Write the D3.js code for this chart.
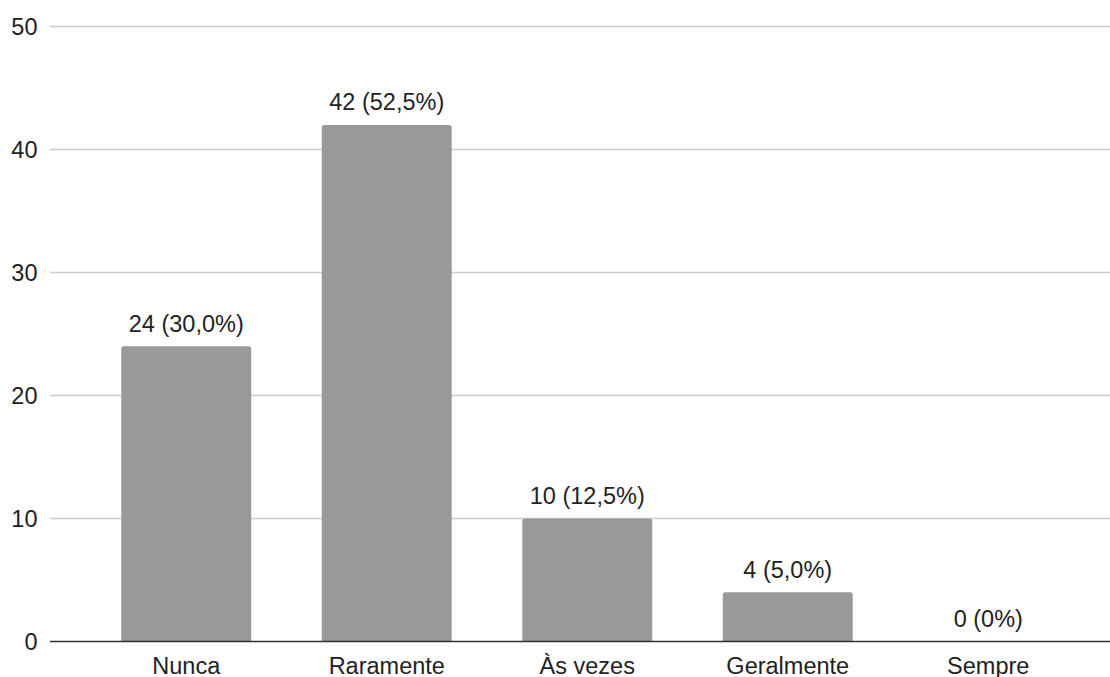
<!DOCTYPE html>
<html>
<head>
<meta charset="utf-8">
<script src="https://cdn.jsdelivr.net/npm/d3@7"></script>
<style>
  html, body { margin: 0; padding: 0; background: #fff; }
  svg { display: block; font-family: Arial, "Liberation Sans", sans-serif; }
</style>
</head>
<body>
<svg id="chart" width="1110" height="677"></svg>
<script>
// Responses per answer option
const categories = ["Nunca", "Raramente", "Às vezes", "Geralmente", "Sempre"];
const counts = [24, 42, 10, 4, 0];
const percentLabels = ["30,0%", "52,5%", "12,5%", "5,0%", "0%"];
const yTicks = [0, 10, 20, 30, 40, 50];

const FONT = "Arial, 'Liberation Sans', sans-serif";
const FS = 23.5;

const svg = d3.select("#chart");

const x = d3.scaleBand()
  .domain(categories)
  .range([86, 1088.5])
  .paddingInner(0.352)
  .paddingOuter(0.176);

const y = d3.scaleLinear()
  .domain([0, 50])
  .range([641.5, 26.5]);

// Horizontal gridlines
svg.append("g")
  .selectAll("line")
  .data(yTicks.filter(d => d !== 0))
  .join("line")
  .attr("x1", 50)
  .attr("x2", 1110)
  .attr("y1", d => y(d))
  .attr("y2", d => y(d))
  .attr("stroke", "#cccccc")
  .attr("stroke-width", 1.3);

// Y axis tick labels
const yAxis = d3.axisLeft(y).tickValues(yTicks).tickSize(0).tickPadding(0);
svg.append("g")
  .attr("transform", "translate(37.5,0)")
  .call(yAxis)
  .call(g => g.select(".domain").remove())
  .call(g => g.selectAll("text")
    .attr("font-size", FS)
    .attr("font-family", FONT)
    .attr("fill", "#222")
    .attr("dy", "0.36em"));

// Bars with slightly rounded top corners
const r = 2.5;
function barPath(d, i) {
  const x0 = x(categories[i]);
  const w = x.bandwidth();
  const yt = y(d);
  const yb = y(0);
  if (yb - yt < r) return `M${x0},${yb}H${x0 + w}V${yt}H${x0}Z`;
  return `M${x0},${yb}V${yt + r}Q${x0},${yt} ${x0 + r},${yt}` +
         `H${x0 + w - r}Q${x0 + w},${yt} ${x0 + w},${yt + r}V${yb}Z`;
}

svg.append("g")
  .selectAll("path")
  .data(counts)
  .join("path")
  .attr("d", barPath)
  .attr("fill", "#999999");

// Value labels above bars
svg.append("g")
  .selectAll("text")
  .data(counts)
  .join("text")
  .attr("x", (d, i) => x(categories[i]) + x.bandwidth() / 2)
  .attr("y", d => y(d) - 14.5)
  .attr("text-anchor", "middle")
  .attr("font-size", FS)
  .attr("font-family", FONT)
  .attr("fill", "#222")
  .text((d, i) => `${d} (${percentLabels[i]})`);

// Baseline
svg.append("line")
  .attr("x1", 50)
  .attr("x2", 1110)
  .attr("y1", y(0))
  .attr("y2", y(0))
  .attr("stroke", "#333333")
  .attr("stroke-width", 1.6);

// X axis category labels
const xAxis = d3.axisBottom(x).tickSize(0).tickPadding(0);
svg.append("g")
  .attr("transform", `translate(0,${y(0)})`)
  .call(xAxis)
  .call(g => g.select(".domain").remove())
  .call(g => g.selectAll("text")
    .attr("font-size", FS)
    .attr("font-family", FONT)
    .attr("fill", "#222")
    .attr("dy", null)
    .attr("y", 32));
</script>
</body>
</html>
